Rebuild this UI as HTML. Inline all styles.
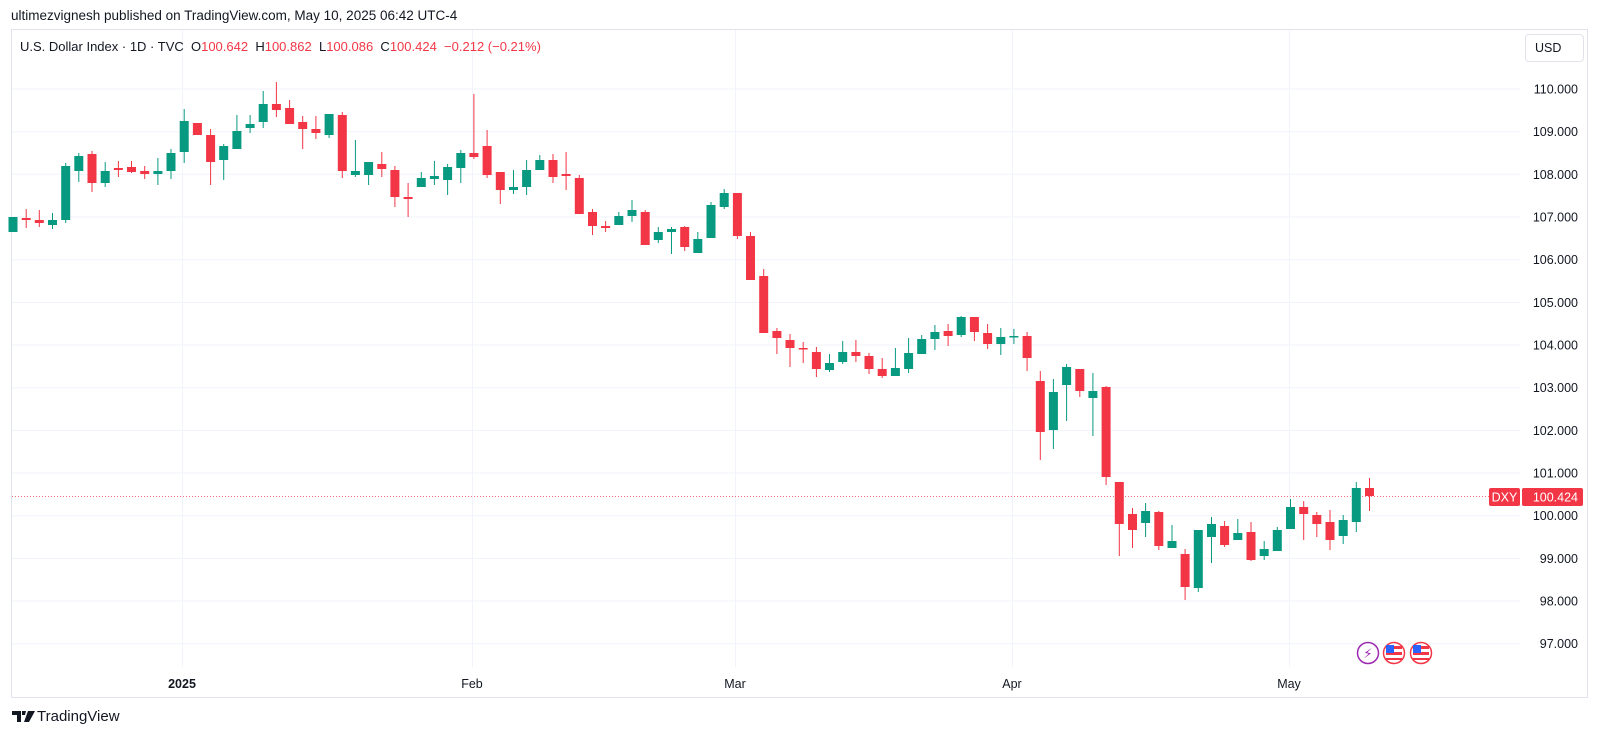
<!DOCTYPE html>
<html><head><meta charset="utf-8"><style>
body{margin:0;width:1600px;height:737px;background:#fff;font-family:"Liberation Sans",sans-serif;overflow:hidden;position:relative}
.t{position:absolute;white-space:nowrap}
</style></head><body>
<div class="t" style="left:11px;top:8px;font-size:13.5px;color:#131722">ultimezvignesh published on TradingView.com, May 10, 2025 06:42 UTC-4</div>
<svg width="1600" height="737" style="position:absolute;left:0;top:0" id="s"></svg>
<div class="t" style="left:20px;top:39px;font-size:13px;color:#131722">U.S. Dollar Index · 1D · TVC&nbsp; O<span style="color:#F23645">100.642</span>&nbsp; H<span style="color:#F23645">100.862</span>&nbsp; L<span style="color:#F23645">100.086</span>&nbsp; C<span style="color:#F23645">100.424</span>&nbsp; <span style="color:#F23645">−0.212 (−0.21%)</span></div>
<div class="t" style="left:1525px;top:34px;width:59px;height:28px;border:1px solid #e0e3eb;border-radius:4px;box-sizing:border-box;font-size:12.5px;color:#131722;line-height:26px;padding-left:9px">USD</div>
<svg width="24" height="14" style="position:absolute;left:12px;top:711px"><path d="M0 0H9V11H5V4H0Z M10 0h4l-1 4h-3Z M16 0h7l-6 11h-5Z" fill="#131722"/></svg>
<div class="t" style="left:37px;top:708px;font-size:15px;color:#131722">TradingView</div>
<script>
var d=[
["g",217,232,217,232],["r",218,220,209,228],["r",220,223,210,227],["g",220,225,213,229],["g",166,220,163,223],["g",156,171,153,182],["r",154,183,151,192],["g",171,183,162,187],["r",168,170,161,177],["r",167,172,161,173],["r",171,174,166,179],["g",171,174,158,185],["g",153,171,149,179],["g",121,152,109,163],["r",123,135,123,135],["r",135,162,129,185],["g",146,160,144,180],["g",131,149,115,149],["g",124,128,115,133],["g",104,122,91,128],["r",104,110,82,117],["r",108,124,100,124],["r",122,129,116,149],["r",129,133,116,139],["g",114,135,114,138],["r",115,171,112,178],["g",171,175,140,177],["g",162,175,162,185],["r",164,169,152,177],["r",170,197,166,207],["r",197,199,183,217],["g",178,187,172,187],["g",176,179,161,185],["g",167,180,164,195],["g",153,168,150,183],["r",153,157,94,159],["r",146,175,130,178],["r",172,190,172,204],["g",187,190,170,194],["g",170,187,160,195],["g",160,170,155,170],["r",160,177,154,183],["r",174,176,152,190],["r",178,214,175,214],["r",212,226,209,235],["r",226,228,221,232],["g",216,225,212,225],["g",210,216,200,222],["r",212,245,210,245],["g",232,240,227,243],["g",229,232,227,254],["r",227,247,226,251],["g",239,253,232,253],["g",205,238,202,238],["g",193,207,189,209],["r",193,236,193,239],["r",236,280,232,280],["r",276,333,269,333],["r",331,338,328,354],["r",340,348,334,367],["r",348,349,342,363],["r",352,369,347,377],["g",363,370,354,372],["g",352,362,341,364],["r",352,356,340,362],["r",356,369,353,374],["r",369,376,358,378],["g",368,376,348,376],["g",353,369,338,373],["g",339,354,335,354],["g",332,339,325,350],["r",331,336,324,346],["g",317,335,316,337],["r",317,332,317,341],["r",333,344,324,349],["g",337,344,328,355],["g",336,337,329,344],["r",336,358,332,371],["r",381,432,371,460],["g",392,430,379,449],["g",367,385,364,421],["r",369,391,369,397],["g",391,398,373,436],["r",387,477,386,485],["r",482,524,482,556],["r",514,530,508,548],["g",511,523,503,537],["r",512,546,511,550],["g",541,548,525,548],["r",554,587,549,600],["g",530,588,530,592],["g",524,537,517,563],["r",526,545,521,547],["g",533,540,519,540],["r",532,560,522,561],["g",549,556,541,560],["g",530,551,527,551],["g",507,529,499,529],["r",507,514,501,540],["r",515,524,512,537],["r",522,540,510,550],["g",520,536,515,544],["g",488,522,482,532],["r",488,496,478,511]];
var h='';
h+='<rect x="11.5" y="29.5" width="1576" height="668" fill="none" stroke="#e0e3eb"/>';
for(var k=0;k<=13;k++){var y=89+k*42.67;h+='<line x1="12" x2="1520" y1="'+y.toFixed(1)+'" y2="'+y.toFixed(1)+'" stroke="#f0f3fa"/>';
h+='<text x="1578" y="'+(y+4.5).toFixed(1)+'" font-size="12.5" fill="#131722" text-anchor="end" font-family="Liberation Sans">'+(110-k)+'.000</text>';}
var vx=[182,472,735,1012,1289],vl=["2025","Feb","Mar","Apr","May"];
for(var i=0;i<5;i++){h+='<line x1="'+vx[i]+'.5" x2="'+vx[i]+'.5" y1="30" y2="667" stroke="#f0f3fa"/>';
h+='<text x="'+vx[i]+'" y="688" font-size="12.5" fill="#131722" text-anchor="middle" font-family="Liberation Sans"'+(i==0?' font-weight="bold"':'')+'>'+vl[i]+'</text>';}
h+='<line x1="12" x2="1520" y1="496.5" y2="496.5" stroke="#F23645" stroke-dasharray="1,2" opacity="0.7"/>';
for(var i=0;i<d.length;i++){var c=d[i],x=13+13.17*i,col=c[0]=="g"?"#089981":"#F23645";
h+='<line x1="'+x.toFixed(1)+'" x2="'+x.toFixed(1)+'" y1="'+c[3]+'" y2="'+c[4]+'" stroke="'+col+'"/>';
h+='<rect x="'+(x-4.5).toFixed(1)+'" y="'+c[1]+'" width="9" height="'+Math.max(1.5,c[2]-c[1])+'" fill="'+col+'"/>';}
h+='<rect x="1489" y="488" width="31" height="18" rx="2" fill="#F23645"/><text x="1504.5" y="501.5" font-size="12.5" fill="#fff" text-anchor="middle" font-family="Liberation Sans">DXY</text>';
h+='<rect x="1522" y="488" width="61" height="18" rx="2" fill="#F23645"/><text x="1578" y="501.5" font-size="12.5" fill="#fff" text-anchor="end" font-family="Liberation Sans">100.424</text>';
h+='<circle cx="1368" cy="653" r="10.5" fill="#fff" stroke="#9c27b0" stroke-width="1.5"/><text x="1368" y="658" font-size="13" fill="#9c27b0" text-anchor="middle" font-family="DejaVu Sans">⚡</text>';
[1394,1421].forEach(function(cx){h+='<circle cx="'+cx+'" cy="653" r="10.5" fill="#fff" stroke="#F23645" stroke-width="1.5"/><rect x="'+(cx-8)+'" y="646" width="16" height="3" fill="#F23645"/><rect x="'+(cx-8)+'" y="652" width="16" height="3" fill="#F23645"/><rect x="'+(cx-8)+'" y="658" width="16" height="2" fill="#F23645"/><rect x="'+(cx-8)+'" y="645" width="8" height="8" fill="#2962ff"/>';});
document.getElementById('s').innerHTML=h;
</script>
</body></html>
